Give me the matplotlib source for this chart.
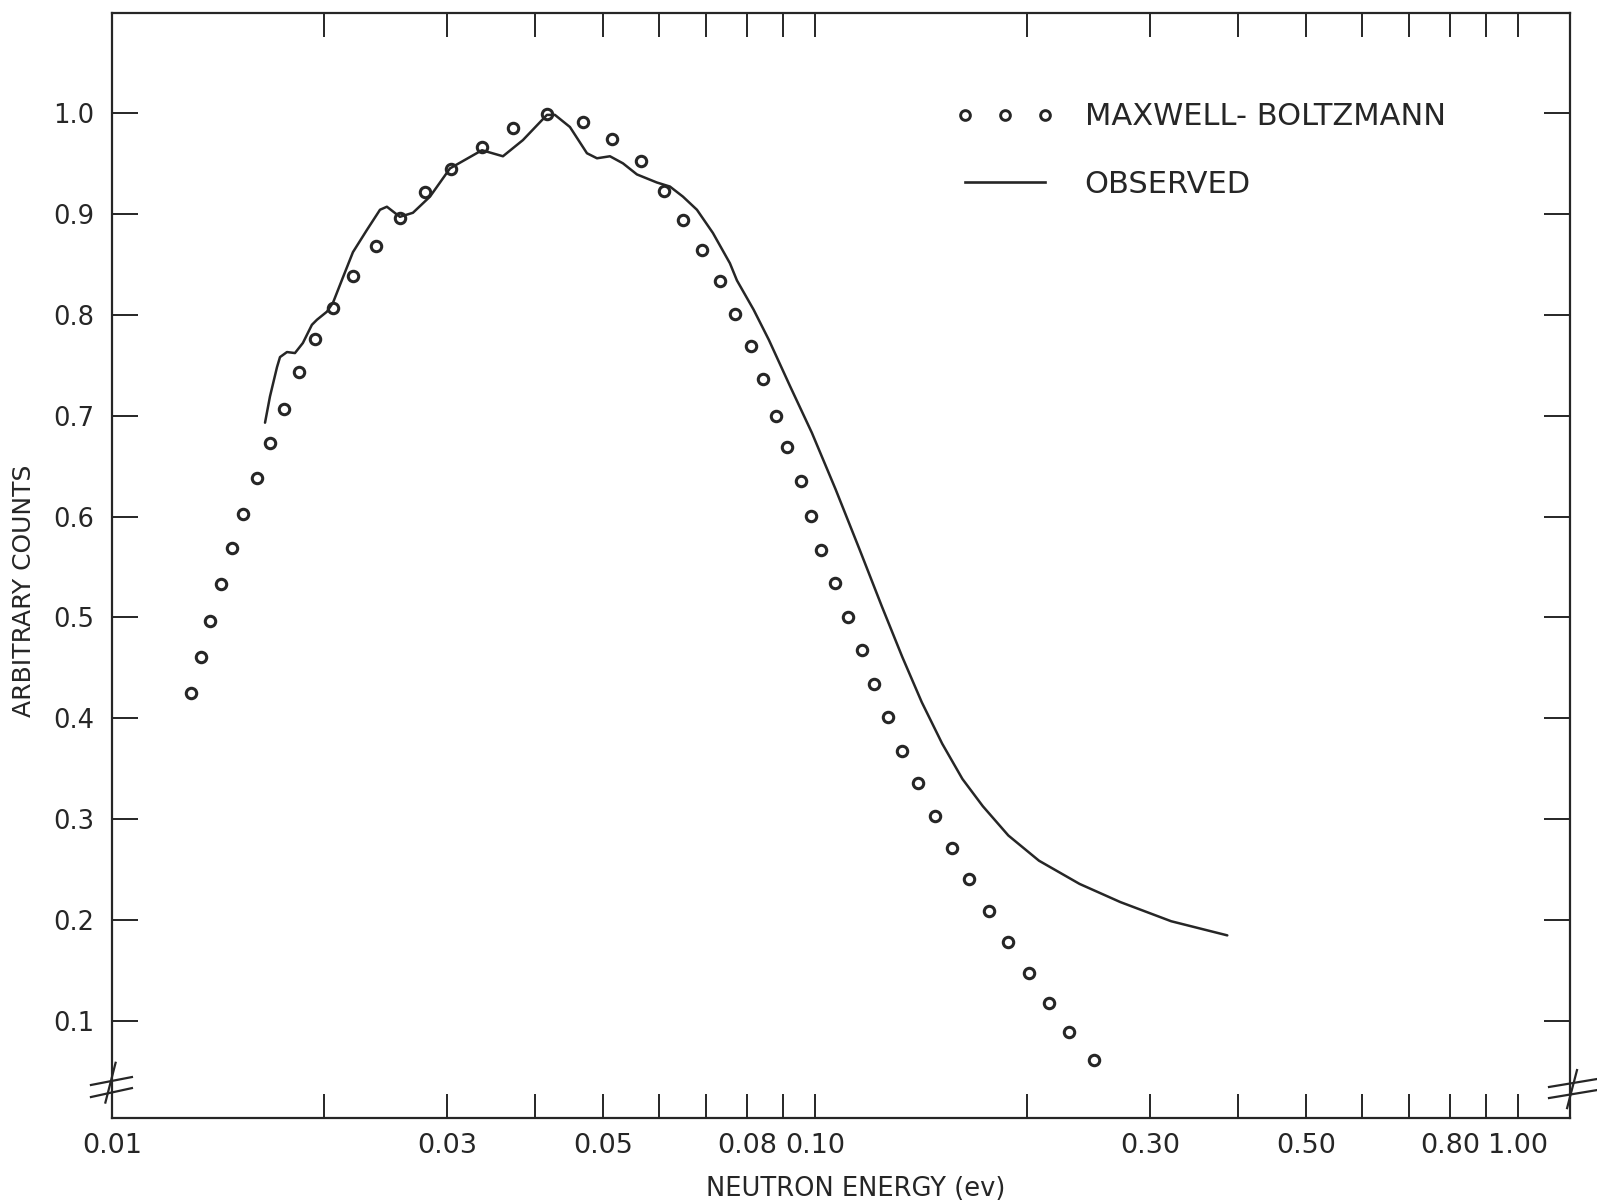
import matplotlib
matplotlib.use("Agg")
import matplotlib.pyplot as plt
from matplotlib.lines import Line2D

# Maxwell-Boltzmann curve (open circles)
mb_energy = [0.01297, 0.01337, 0.01377, 0.01429, 0.01483, 0.01538, 0.01606, 0.01677,
             0.01757, 0.01848, 0.01943, 0.02063, 0.02205, 0.02373, 0.02570, 0.02786,
             0.03038, 0.03357, 0.03724, 0.04157, 0.04672, 0.05146, 0.05649, 0.0610,
             0.0650, 0.0690, 0.0733, 0.0770, 0.0810, 0.0843, 0.0880, 0.0913,
             0.0954, 0.0986, 0.1019, 0.1068, 0.1115, 0.1165, 0.1213, 0.1271,
             0.1331, 0.1400, 0.1482, 0.1568, 0.1659, 0.1768, 0.1884, 0.2014,
             0.2153, 0.2301, 0.2493]
mb_counts = [0.425, 0.461, 0.497, 0.533, 0.569, 0.603, 0.638, 0.673,
             0.707, 0.743, 0.776, 0.807, 0.838, 0.868, 0.896, 0.922,
             0.944, 0.966, 0.985, 0.999, 0.991, 0.974, 0.952, 0.923,
             0.894, 0.864, 0.833, 0.801, 0.769, 0.736, 0.700, 0.669,
             0.635, 0.601, 0.567, 0.534, 0.500, 0.468, 0.434, 0.401,
             0.368, 0.336, 0.303, 0.272, 0.241, 0.209, 0.178, 0.148,
             0.118, 0.089, 0.062]

# observed spectrum (solid line)
obs_energy = [0.01651, 0.01678, 0.01717, 0.01734, 0.01774, 0.01821, 0.01869, 0.01925,
              0.01957, 0.02022, 0.02063, 0.02131, 0.02202, 0.02305, 0.02406, 0.02461,
              0.02568, 0.02680, 0.02834, 0.03026, 0.03360, 0.03599, 0.03842, 0.04157,
              0.04267, 0.04482, 0.04739, 0.04897, 0.05110, 0.05332, 0.05582, 0.05959,
              0.06219, 0.06490, 0.06794, 0.07159, 0.07569, 0.07745, 0.0818, 0.0860,
              0.0922, 0.0990, 0.1070, 0.1158, 0.1245, 0.1331, 0.1419, 0.1517,
              0.1621, 0.1733, 0.1884, 0.2083, 0.2379, 0.2719, 0.3212, 0.3860]
obs_counts = [0.693, 0.719, 0.748, 0.758, 0.763, 0.762, 0.772, 0.790,
              0.795, 0.803, 0.812, 0.837, 0.862, 0.884, 0.904, 0.907,
              0.897, 0.901, 0.917, 0.945, 0.963, 0.957, 0.973, 0.998,
              0.998, 0.986, 0.960, 0.955, 0.957, 0.950, 0.939, 0.931,
              0.927, 0.917, 0.904, 0.881, 0.851, 0.834, 0.805, 0.775,
              0.729, 0.683, 0.627, 0.567, 0.511, 0.461, 0.416, 0.375,
              0.340, 0.313, 0.284, 0.259, 0.236, 0.218, 0.199, 0.185]

x_ticks = [0.01, 0.02, 0.03, 0.04, 0.05, 0.06, 0.07, 0.08, 0.09,
           0.1, 0.2, 0.3, 0.4, 0.5, 0.6, 0.7, 0.8, 0.9, 1.0]
x_labels = ["0.01", "", "0.03", "", "0.05", "", "", "0.08", "",
            "0.10", "", "0.30", "", "0.50", "", "", "0.80", "", "1.00"]
y_ticks = [0.1, 0.2, 0.3, 0.4, 0.5, 0.6, 0.7, 0.8, 0.9, 1.0]
y_labels = ["0.1", "0.2", "0.3", "0.4", "0.5", "0.6", "0.7", "0.8", "0.9", "1.0"]

ink = "#262626"
plt.rcParams["font.family"] = "DejaVu Sans"

fig = plt.figure(figsize=(15.97, 12), dpi=100)
ax = fig.add_axes([0.0701, 0.0683, 0.913, 0.9209])

ax.plot(mb_energy, mb_counts, linestyle="none", marker="o", markersize=7.5,
        markerfacecolor="white", markeredgecolor=ink, markeredgewidth=2.2)
ax.plot(obs_energy, obs_counts, color=ink, linewidth=1.8,
        solid_joinstyle="round", solid_capstyle="round")

ax.set_xscale("log")
ax.set_xlim(0.01, 1.186)
ax.set_ylim(0.004, 1.099)

ax.xaxis.set_minor_locator(matplotlib.ticker.NullLocator())
ax.set_xticks(x_ticks)
ax.set_xticklabels(x_labels)
ax.set_yticks(y_ticks)
ax.set_yticklabels(y_labels)

ax.tick_params(axis="x", which="major", direction="in", top=True, bottom=True,
               length=17, width=1.4, color=ink, labelsize=19.5, pad=11, labelcolor=ink)
ax.tick_params(axis="y", which="major", direction="in", left=True, right=True,
               length=19, width=1.4, color=ink, labelsize=18.5, pad=12.5, labelcolor=ink)
for s in ax.spines.values():
    s.set_linewidth(1.6)
    s.set_color(ink)

ax.set_xlabel("NEUTRON ENERGY (ev)", fontsize=18.5, color=ink)
ax.xaxis.set_label_coords(0.51, -0.052)
ax.set_ylabel("ARBITRARY COUNTS", fontsize=18, color=ink)
ax.yaxis.set_label_coords(-0.052, 0.477)

# broken-axis marks near the bottom of both vertical axes
brk = dict(color=ink, linewidth=1.6, transform=ax.transAxes, clip_on=False)
ax.plot([-0.0144, 0.0137], [0.0299, 0.0371], **brk)
ax.plot([-0.0144, 0.0137], [0.0190, 0.0271], **brk)
ax.plot([-0.0045, 0.0025], [0.014, 0.050], **brk)
ax.plot([0.9856, 1.0185], [0.0281, 0.0353], **brk)
ax.plot([0.9856, 1.0185], [0.0181, 0.0253], **brk)
ax.plot([0.998, 1.0048], [0.009, 0.0434], **brk)

handles = [
    Line2D([], [], linestyle="none", marker="o", markersize=7,
           markerfacecolor="white", markeredgecolor=ink, markeredgewidth=2.1),
    Line2D([], [], color=ink, linewidth=1.9),
]
leg = ax.legend(handles, ["MAXWELL- BOLTZMANN", "OBSERVED"], loc="upper left",
                bbox_to_anchor=(0.579, 0.919), frameon=False, numpoints=3,
                fontsize=22, handlelength=3.2, handletextpad=1.0,
                labelspacing=1.25, borderpad=0, borderaxespad=0)
for t in leg.get_texts():
    t.set_color(ink)

fig.savefig("out.png", dpi=100, facecolor="white")
